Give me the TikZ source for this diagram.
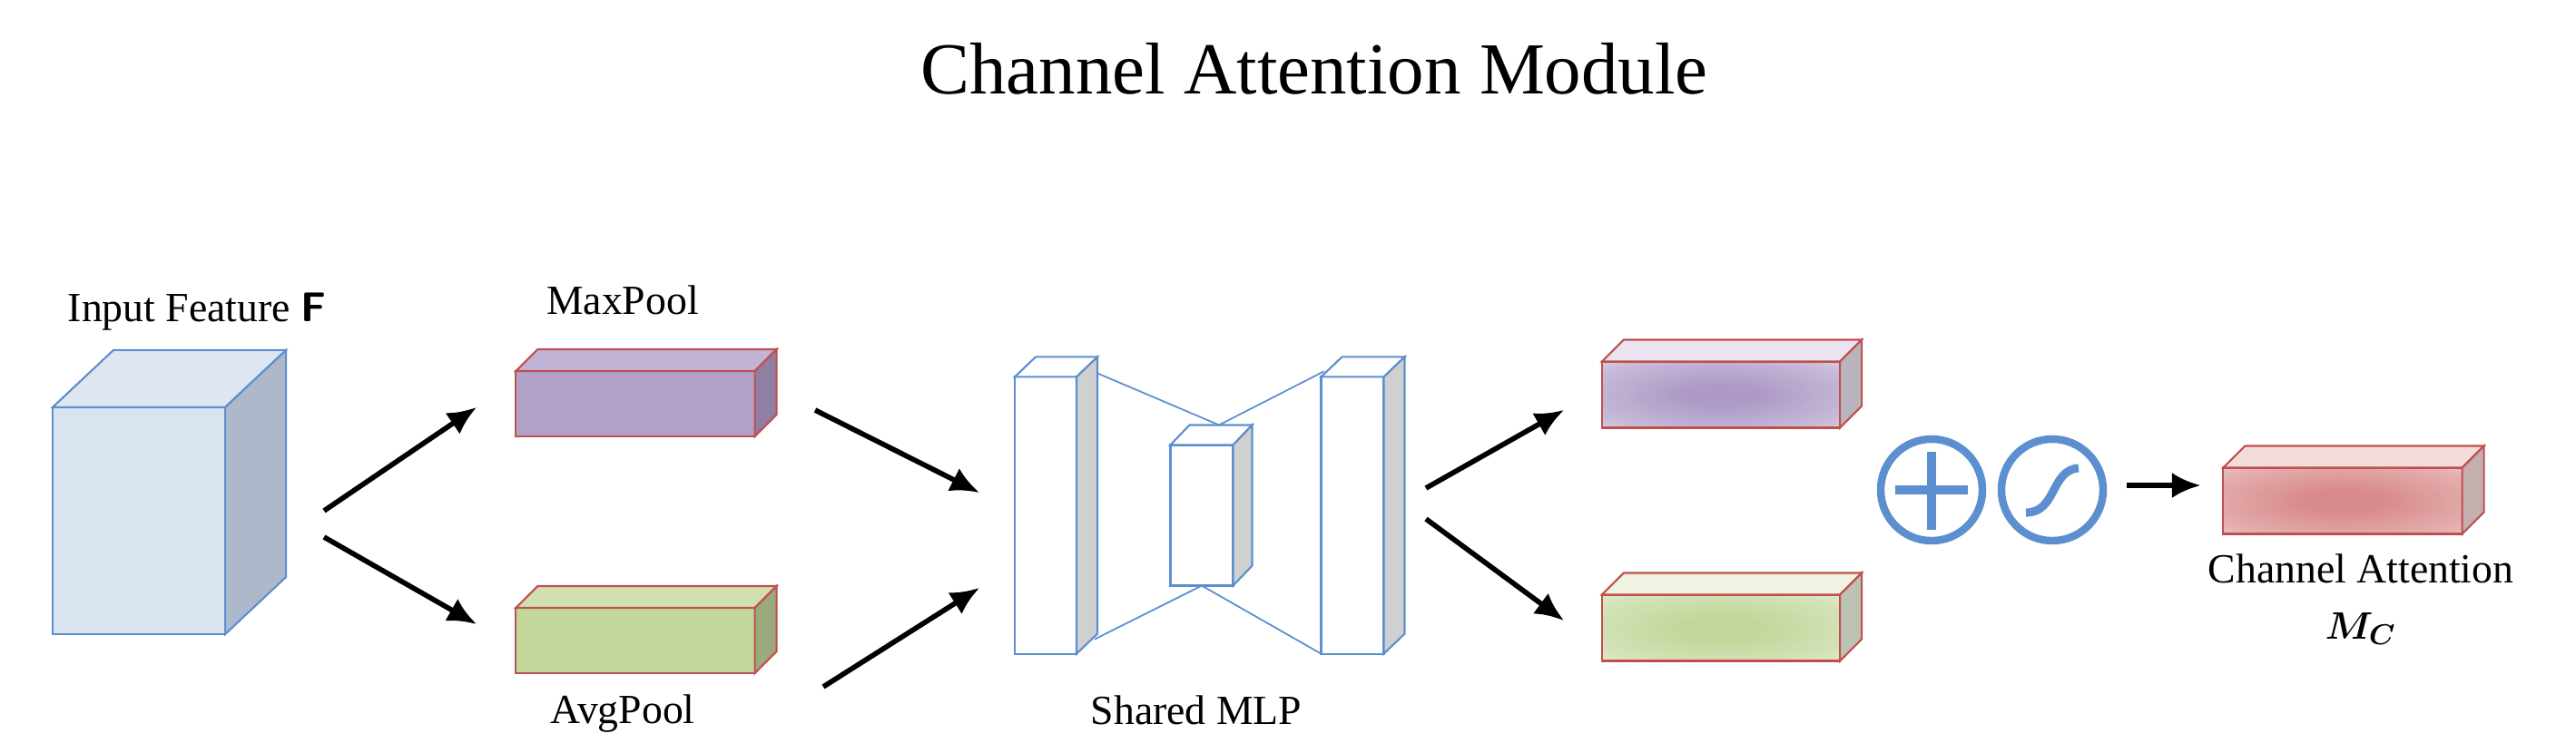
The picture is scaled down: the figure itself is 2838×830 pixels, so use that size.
\documentclass[tikz,border=0pt]{standalone}
\usepackage{fontspec}
\usepackage{amsmath}
\setmainfont{Liberation Serif}
\usetikzlibrary{calc,arrows.meta}
\definecolor{bord}{HTML}{5B8FCF}
\definecolor{redb}{HTML}{C0504D}
\definecolor{puin}{HTML}{AD9AC6}
\definecolor{puout}{HTML}{EAE4F0}
\definecolor{grin}{HTML}{C2D69A}
\definecolor{grout}{HTML}{EEF3E2}
\definecolor{rdin}{HTML}{D98A8A}
\definecolor{rdout}{HTML}{F2DCDC}
\pgfdeclareradialshading{glowpu}{\pgfpoint{0bp}{0bp}}{color(0bp)=(puin); color(8bp)=(puin); color(30bp)=(puin!55!puout); color(44bp)=(puout); color(70bp)=(puout)}
\pgfdeclareradialshading{glowgr}{\pgfpoint{0bp}{0bp}}{color(0bp)=(grin); color(8bp)=(grin); color(30bp)=(grin!55!grout); color(44bp)=(grout); color(70bp)=(grout)}
\pgfdeclareradialshading{glowrd}{\pgfpoint{0bp}{0bp}}{color(0bp)=(rdin); color(8bp)=(rdin); color(30bp)=(rdin!55!rdout); color(44bp)=(rdout); color(70bp)=(rdout)}
\newcommand\boxfaces[6]{%
  \filldraw[draw=#6,line width=0.6pt,fill=#4] (#1.north west) -- ++(#2,#3) -- ($(#1.north east)+(#2,#3)$) -- (#1.north east) -- cycle;
  \filldraw[draw=#6,line width=0.6pt,fill=#5] (#1.north east) -- ++(#2,#3) -- ($(#1.south east)+(#2,#3)$) -- (#1.south east) -- cycle;}
\begin{document}
\begin{tikzpicture}[x=0.01cm,y=-0.01cm,
  face/.style={draw=#1,line width=0.6pt,inner sep=0pt,outer sep=0pt},
  arr/.style={line width=1.6pt,-{Latex[length=9pt,width=8pt]}},
  lab/.style={font=\fontsize{13}{15}\selectfont},
  mlpline/.style={draw=bord,line width=0.5pt}]
\useasboundingbox (0,0) rectangle (2838,830);
\node[font=\fontsize{23}{27}\selectfont] (title) at (1448,76) {Channel Attention Module};
% input
\node[face=bord,fill={rgb,255:red,218;green,227;blue,240},minimum width=1.9cm,minimum height=2.5cm] (in) at (153,574) {};
\boxfaces{in}{67}{-63}{{rgb,255:red,222;green,230;blue,241}}{{rgb,255:red,173;green,185;blue,202}}{bord}
\node[lab] (inl) at (217,344) {Input Feature \textbf{\sffamily F}};
% pools
\node[face=redb,fill={rgb,255:red,177;green,160;blue,199},minimum width=2.63cm,minimum height=0.72cm] (mp) at (700,445) {};
\boxfaces{mp}{24}{-24}{{rgb,255:red,192;green,179;blue,213}}{{rgb,255:red,142;green,127;blue,163}}{redb}
\node[lab] (mpl) at (686,331) {MaxPool};
\node[face=redb,fill={rgb,255:red,196;green,215;blue,155},minimum width=2.63cm,minimum height=0.72cm] (ap) at (700,706) {};
\boxfaces{ap}{24}{-24}{{rgb,255:red,208;green,223;blue,176}}{{rgb,255:red,155;green,170;blue,124}}{redb}
\node[lab] (apl) at (686,787) {AvgPool};
% MLP
\node[face=bord,fill=white,minimum width=0.68cm,minimum height=3.05cm] (m1) at (1152,568) {};
\boxfaces{m1}{23}{-22}{white}{{rgb,255:red,208;green,208;blue,208}}{bord}
\node[face=bord,fill=white,minimum width=0.69cm,minimum height=1.55cm] (m2) at (1324,568) {};
\boxfaces{m2}{21}{-22}{white}{{rgb,255:red,208;green,208;blue,208}}{bord}
\node[face=bord,fill=white,minimum width=0.69cm,minimum height=3.05cm] (m3) at (1490,568) {};
\boxfaces{m3}{23}{-22}{white}{{rgb,255:red,208;green,208;blue,208}}{bord}
\draw[mlpline] ($(m1.north east)+(23,-4)$) -- ($(m2.north)+(19,-22)$) -- ($(m3.north west)+(3,-6)$);
\draw[mlpline] ($(m1.south east)+(20,-16)$) -- (m2.south) -- (m3.south west);
\node[lab] (mlpl) at (1318,783) {Shared MLP};
% outputs
\node[face=redb,shading=glowpu,minimum width=2.62cm,minimum height=0.73cm] (o1) at (1896,435) {};
\boxfaces{o1}{24}{-24}{puout}{{rgb,255:red,184;green,180;blue,190}}{redb}
\node[face=redb,shading=glowgr,minimum width=2.62cm,minimum height=0.73cm] (o2) at (1896,692) {};
\boxfaces{o2}{24}{-24}{grout}{{rgb,255:red,189;green,194;blue,179}}{redb}
% ops
\node[circle,draw=bord,line width=2.4pt,minimum size=1.12cm] (plus) at (2128,540) {};
\draw[bord,line width=2.6pt] ($(plus)+(-40,0)$) -- ($(plus)+(40,0)$) ($(plus)+(0,-42)$) -- ($(plus)+(0,44)$);
\node[circle,draw=bord,line width=2.4pt,minimum size=1.12cm] (sig) at (2261,540) {};
\draw[bord,line width=2.6pt] ($(sig)+(-29,25)$) .. controls ($(sig)+(5,25)$) and ($(sig)+(-2,-22)$) .. ($(sig)+(29,-24)$);
% attention
\node[face=redb,shading=glowrd,minimum width=2.63cm,minimum height=0.73cm] (mc) at (2581,552) {};
\boxfaces{mc}{24}{-24}{rdout}{{rgb,255:red,195;green,175;blue,174}}{redb}
\node[lab] (mcl) at (2601,627) {Channel Attention};
\node[lab] (mcs) at (2601,693) {$\boldsymbol{M_C}$};
% arrows
\coordinate (a1s) at (357,563); \coordinate (a1e) at (525,449);
\coordinate (a2s) at (357,592); \coordinate (a2e) at (525,688);
\coordinate (a3s) at (898,452); \coordinate (a3e) at (1079,543);
\coordinate (a4s) at (907,757); \coordinate (a4e) at (1079,648);
\coordinate (a5s) at (1571,538); \coordinate (a5e) at (1723,452);
\coordinate (a6s) at (1571,572); \coordinate (a6e) at (1723,684);
\draw[arr] (a1s) -- (a1e);
\draw[arr] (a2s) -- (a2e);
\draw[arr] (a3s) -- (a3e);
\draw[arr] (a4s) -- (a4e);
\draw[arr] (a5s) -- (a5e);
\draw[arr] (a6s) -- (a6e);
\draw[arr] (sig.east)++(22,-5) coordinate (a7s) -- ($(mc.west)+(-25,-17)$) coordinate (a7e);
\end{tikzpicture}
\end{document}
